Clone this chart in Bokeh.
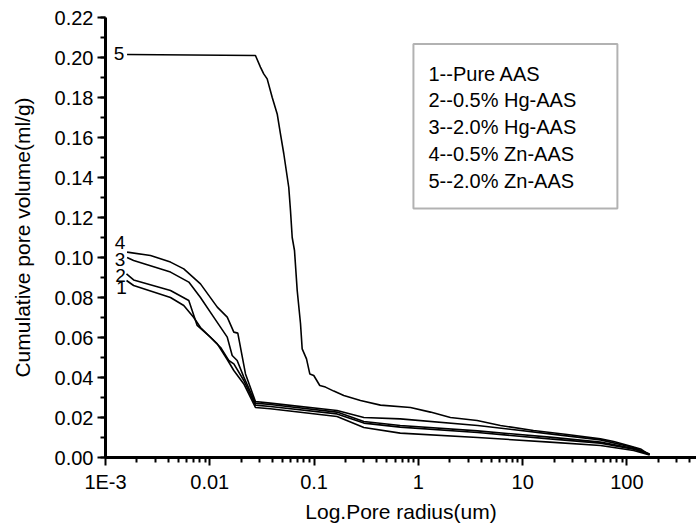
from bokeh.plotting import figure
from bokeh.models import (ColumnDataSource, Range1d, FixedTicker, SingleIntervalTicker,
                          PrintfTickFormatter, CustomJSTickFormatter, BoxAnnotation, Label)
from bokeh.core.properties import value
from bokeh.embed import file_html
from bokeh.resources import INLINE

# ---- data ----
x1 = [0.00159, 0.00186, 0.0042, 0.00563, 0.00702, 0.00814, 0.0118, 0.0147, 0.0170, 0.0212, 0.0274, 0.038, 0.166, 0.30, 0.67, 3.7, 18.2, 55.7, 116, 165]
y1 = [0.0885, 0.0860, 0.0800, 0.0760, 0.0700, 0.0650, 0.0568, 0.0490, 0.0435, 0.0368, 0.0250, 0.0244, 0.0205, 0.0150, 0.0122, 0.0100, 0.0077, 0.0060, 0.0035, 0.0012]

x2 = [0.00159, 0.00186, 0.0042, 0.00629, 0.00757, 0.0102, 0.0127, 0.0152, 0.0170, 0.0212, 0.0274, 0.038, 0.166, 0.30, 0.67, 3.7, 18.2, 55.7, 116, 165]
y2 = [0.0918, 0.0888, 0.0835, 0.0785, 0.0660, 0.0600, 0.0550, 0.0485, 0.0468, 0.0385, 0.0262, 0.0255, 0.0218, 0.0172, 0.0152, 0.0125, 0.0093, 0.0072, 0.0042, 0.0015]

x3 = [0.00161, 0.00186, 0.0042, 0.00629, 0.00814, 0.0109, 0.0147, 0.0164, 0.0183, 0.0212, 0.0274, 0.038, 0.166, 0.30, 0.67, 3.7, 18.2, 55.7, 116, 165]
y3 = [0.1000, 0.0985, 0.0927, 0.0877, 0.0800, 0.0702, 0.0602, 0.0510, 0.0485, 0.0402, 0.0272, 0.0265, 0.0227, 0.0180, 0.0160, 0.0133, 0.0102, 0.0077, 0.0045, 0.0015]

x4 = [0.00161, 0.0027, 0.0042, 0.00563, 0.00814, 0.0118, 0.0147, 0.0170, 0.01856, 0.0220, 0.0274, 0.038, 0.166, 0.30, 0.67, 3.7, 18.2, 55.7, 116, 165]
y4 = [0.1027, 0.1010, 0.0977, 0.0943, 0.0868, 0.0752, 0.0702, 0.0627, 0.0622, 0.0418, 0.0280, 0.0272, 0.0235, 0.0200, 0.0193, 0.0160, 0.0118, 0.0088, 0.0050, 0.0018]

x5 = [0.00161, 0.0274, 0.0306, 0.0329, 0.0355, 0.0397, 0.0443, 0.0476, 0.0512, 0.0572, 0.0594, 0.0617, 0.0649, 0.0689, 0.0741, 0.0769, 0.0846, 0.0910, 0.0993, 0.1134, 0.1286, 0.1545, 0.1927, 0.2786, 0.433, 0.84, 1.306, 2.03, 3.66, 6.12, 12.7, 26.7, 55.7, 74.7, 116, 135, 162]
y5 = [0.2015, 0.2010, 0.1952, 0.1918, 0.1893, 0.1800, 0.1718, 0.1618, 0.1520, 0.1350, 0.1235, 0.1100, 0.1035, 0.0835, 0.0670, 0.0543, 0.0493, 0.0418, 0.0410, 0.0360, 0.0352, 0.0332, 0.0310, 0.0285, 0.0262, 0.0250, 0.0227, 0.0200, 0.0185, 0.0160, 0.0135, 0.0115, 0.0093, 0.0080, 0.0052, 0.0043, 0.0015]

curve_names = ["1", "2", "3", "4", "5"]
legend_lines = ["1--Pure AAS", "2--0.5% Hg-AAS", "3--2.0% Hg-AAS", "4--0.5% Zn-AAS", "5--2.0% Zn-AAS"]

x_tick_values = [1e-3, 1e-2, 1e-1, 1, 10, 100]
x_tick_labels = ["1E-3", "0.01", "0.1", "1", "10", "100"]

FONT = "Liberation Sans"
FS = "20px"

p = figure(x_axis_type="log", x_range=Range1d(1e-3, 10 ** 2.667), y_range=Range1d(0, 0.22),
           frame_width=591, frame_height=440, min_border_left=105, min_border_right=0,
           min_border_top=17, min_border_bottom=71,
           output_backend="svg", toolbar_location=None)
p.outline_line_color = None
p.xgrid.visible = False
p.ygrid.visible = False

series = [(x1, y1), (x2, y2), (x3, y3), (x4, y4), (x5, y5)]
for xs, ys in series:
    p.line(xs, ys, line_color="black", line_width=1.6)

# curve number labels next to each curve start
lab_src = ColumnDataSource(dict(
    x=[s[0][0] for s in series], y=[s[1][0] for s in series], text=curve_names,
    xo=[-5, -6, -7, -7, -8], yo=[7, 2, 2, -10, -1]))
p.text(x="x", y="y", text="text", x_offset="xo", y_offset="yo", source=lab_src,
       text_font=value(FONT), text_font_size="19px", text_align="center",
       text_baseline="middle", text_color="black")

# x axis
minor = []
for d in [1e-3, 1e-2, 1e-1, 1, 10, 100]:
    for k in range(2, 10):
        minor.append(d * k)
p.xaxis.ticker = FixedTicker(ticks=x_tick_values, minor_ticks=minor)
p.xaxis.formatter = CustomJSTickFormatter(args=dict(tvals=x_tick_values, tlabs=x_tick_labels), code="""
const i = tvals.findIndex(t => Math.abs(Math.log10(t) - Math.log10(tick)) < 1e-6);
return i >= 0 ? tlabs[i] : '';
""")
p.yaxis.ticker = SingleIntervalTicker(interval=0.02, num_minor_ticks=2)
p.yaxis.formatter = PrintfTickFormatter(format="%.2f")

p.axis.axis_line_color = "black"
p.axis.axis_line_width = 3
p.axis.major_tick_line_color = "black"
p.axis.minor_tick_line_color = "black"
p.axis.major_tick_in = 0
p.axis.major_tick_out = 8
p.axis.minor_tick_in = 0
p.axis.minor_tick_out = 5
p.axis.major_tick_line_width = 2
p.axis.minor_tick_line_width = 2
p.axis.major_label_text_font = FONT
p.axis.major_label_text_font_size = FS
p.axis.major_label_text_color = "black"
p.axis.axis_label_text_font = FONT
p.axis.axis_label_text_font_size = "21px"
p.axis.axis_label_text_font_style = "normal"
p.axis.axis_label_text_color = "black"

p.xaxis.axis_label = "Log.Pore radius(um)"
p.yaxis.axis_label = "Cumulative pore volume(ml/g)"
p.xaxis.major_label_standoff = 5
p.xaxis.axis_label_standoff = 4
p.yaxis.major_label_standoff = 4
p.yaxis.axis_label_standoff = 18

# legend box (text only, as in the reference)
p.add_layout(BoxAnnotation(left=0.897, right=81.0, bottom=0.1245, top=0.2068,
                           fill_color="white", fill_alpha=1.0, line_color="black",
                           line_width=2, level="annotation"))
for i, t in enumerate(legend_lines):
    p.add_layout(Label(x=1.25, y=0.1919 - i * 0.01335, text=t, text_font=FONT,
                       text_font_size=FS, text_baseline="middle", text_color="black"))

open("out.html", "w").write(file_html(p, INLINE))
